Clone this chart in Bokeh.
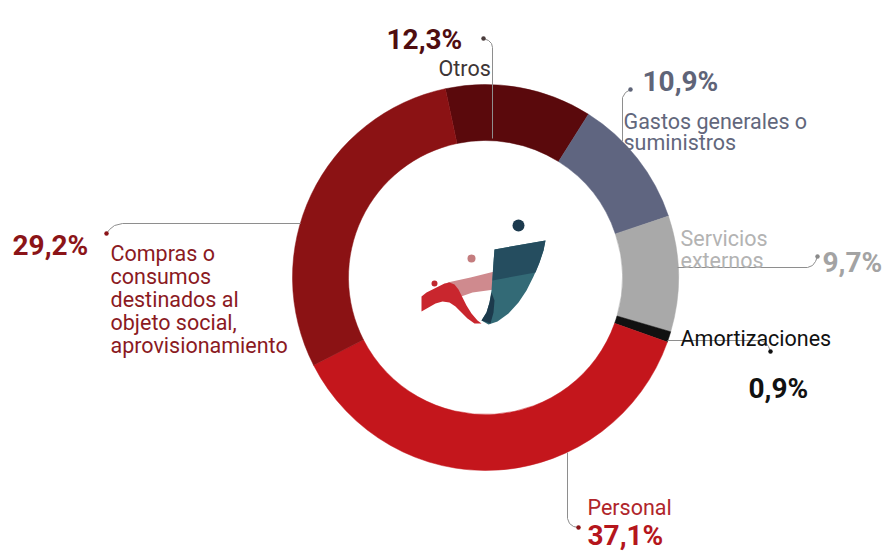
import math
from bokeh.plotting import figure
from bokeh.models import Range1d, ColumnDataSource
from bokeh.core.properties import value
from bokeh.embed import file_html
from bokeh.resources import INLINE

# ---------------- data ----------------
categories = ["Otros", "Gastos generales o suministros", "Servicios externos",
              "Amortizaciones", "Personal",
              "Compras o consumos destinados al objeto social, aprovisionamiento"]
values = [12.3, 10.9, 9.7, 0.9, 37.1, 29.2]
pct_labels = ["12,3%", "10,9%", "9,7%", "0,9%", "37,1%", "29,2%"]
slice_colors = ["#5a090c", "#5f6580", "#a9a9a9", "#111111", "#c4161c", "#8b1214"]
pct_colors = ["#4f0d10", "#5f6478", "#a3a3a3", "#111111", "#b5161c", "#8b1418"]
name_colors = ["#3d3535", "#62677c", "#b3b3b3", "#111111", "#b0252b", "#8b1a1f"]
name_lines = [["Otros"], ["Gastos generales o", "suministros"], ["Servicios", "externos"],
              ["Amortizaciones"], ["Personal"],
              ["Compras o", "consumos", "destinados al", "objeto social,", "aprovisionamiento"]]

# ---------------- layout ----------------
W, H = 887, 551
SY = 551  # data y = SY - screen y


def Y(sy):
    return SY - sy


CX, CY = 485, Y(277)
R_IN, R_OUT = 137, 193
START_DEG = -12.0  # clockwise from 12 o'clock

p = figure(width=W, height=H, x_range=Range1d(0, W), y_range=Range1d(0, H),
           output_backend="svg", toolbar_location=None, min_border=0)
p.axis.visible = False
p.grid.visible = False
p.outline_line_color = None
p.background_fill_color = "white"
p.border_fill_color = "white"

total = sum(values)
starts, ends = [], []
acc = START_DEG
for v in values:
    a0 = acc
    a1 = acc + 360.0 * v / total
    starts.append(math.radians(90 - a0))
    ends.append(math.radians(90 - a1))
    acc = a1

src = ColumnDataSource(dict(start=starts, end=ends, color=slice_colors, cat=categories))
p.annular_wedge(x=CX, y=CY, inner_radius=R_IN, outer_radius=R_OUT,
                start_angle="start", end_angle="end", direction="clock",
                fill_color="color", line_color="color", line_width=0.5, source=src)

# ---------------- leader lines (screen coords) ----------------
LINE_COL = "#8e8e8e"
leaders = [
    [(483, 38), (488, 40), (491, 43), (492, 47), (492, 138)],                 # Otros
    [(630, 89), (625, 92), (622, 97), (622, 141)],                            # Gastos
    [(300, 223), (122, 223), (114, 225), (109, 229), (106, 233)],             # Compras
    [(677, 267), (807, 267), (812, 265), (815, 261), (817, 256)],             # Servicios
    [(667, 340), (760, 340), (765, 342), (768, 346), (770, 351)],             # Amortizaciones
    [(567, 452), (567, 518), (569, 523), (573, 526), (578, 527)],             # Personal
]
dots = [(483, 38), (630, 89), (106, 233), (817, 256), (770, 351), (578, 527)]
dot_cols = ["#4a3b3b", "#5f6478", "#8b1418", "#8a8a8a", "#111111", "#8b1418"]
for pts in leaders:
    p.line(x=[a for a, b in pts], y=[Y(b) for a, b in pts], line_color=LINE_COL, line_width=1)
p.scatter(x=[d[0] for d in dots], y=[Y(d[1]) for d in dots], size=4.5,
          fill_color=dot_cols, line_color=None)

# ---------------- logo ----------------
back_band = [(447, 282), (470, 277), (494, 271), (494, 289), (472, 292), (455, 298)]
red_wave = [(421, 296), (426, 292), (432, 289), (438, 286), (444, 283), (449, 282),
            (454, 284), (458, 289), (462, 297), (466, 305), (471, 313), (477, 320),
            (481, 323), (474, 323), (467, 318), (461, 312), (455, 306), (449, 302),
            (442, 301), (435, 303), (428, 307), (421, 311)]
blade = [(494, 249), (545, 240), (543, 250), (539, 262), (533, 276), (526, 290),
         (518, 302), (508, 313), (497, 321), (488, 324), (481, 320), (486, 312),
         (489, 302), (491, 290), (492, 275), (493, 262)]
blade_top = [(494, 249), (545, 240), (543, 250), (539, 262), (535, 272), (492, 280),
             (493, 262)]
fold = [(481, 320), (486, 312), (489, 302), (491, 292), (494, 300), (493, 312),
        (490, 323)]
p.patch([a for a, b in back_band], [Y(b) for a, b in back_band], fill_color="#cf8a8e", line_color=None)
p.patch([a for a, b in red_wave], [Y(b) for a, b in red_wave], fill_color="#c9262e", line_color=None)
p.patch([a for a, b in blade], [Y(b) for a, b in blade], fill_color="#336a76", line_color=None)
p.patch([a for a, b in blade_top], [Y(b) for a, b in blade_top], fill_color="#254d5f", line_color=None)
p.patch([a for a, b in fold], [Y(b) for a, b in fold], fill_color="#1c3a4c", line_color=None)
p.scatter(x=[518, 471, 434], y=[Y(225), Y(258), Y(283)], size=[12, 8, 6],
          fill_color=["#1c3a4e", "#c47c7e", "#c0282f"], line_color=None)

# ---------------- texts ----------------
FONT = value("Roboto")


def txt(x, sy, s, size, color, bold=False):
    p.text(x=[x], y=[Y(sy)], text=[s], text_font=FONT, text_font_size=f"{size}px",
           text_color=color, text_font_style="bold" if bold else "normal",
           text_baseline="alphabetic", text_align="left")


pct_pos = [(386, 39), (642, 81), (822, 262), (748, 388), (587, 535), (12, 245)]
name_pos = [(438, [68]), (623, [121, 142]), (680, [238, 260]), (680, [338]),
            (587, [507]), (110, [253, 276, 299, 322, 345])]

for i in range(len(values)):
    x, y = pct_pos[i]
    txt(x, y, pct_labels[i], 28, pct_colors[i], bold=True)
    nx, ys = name_pos[i]
    for line, ly in zip(name_lines[i], ys):
        txt(nx, ly, line, 21.5, name_colors[i])

open("out.html", "w").write(file_html(p, INLINE))
